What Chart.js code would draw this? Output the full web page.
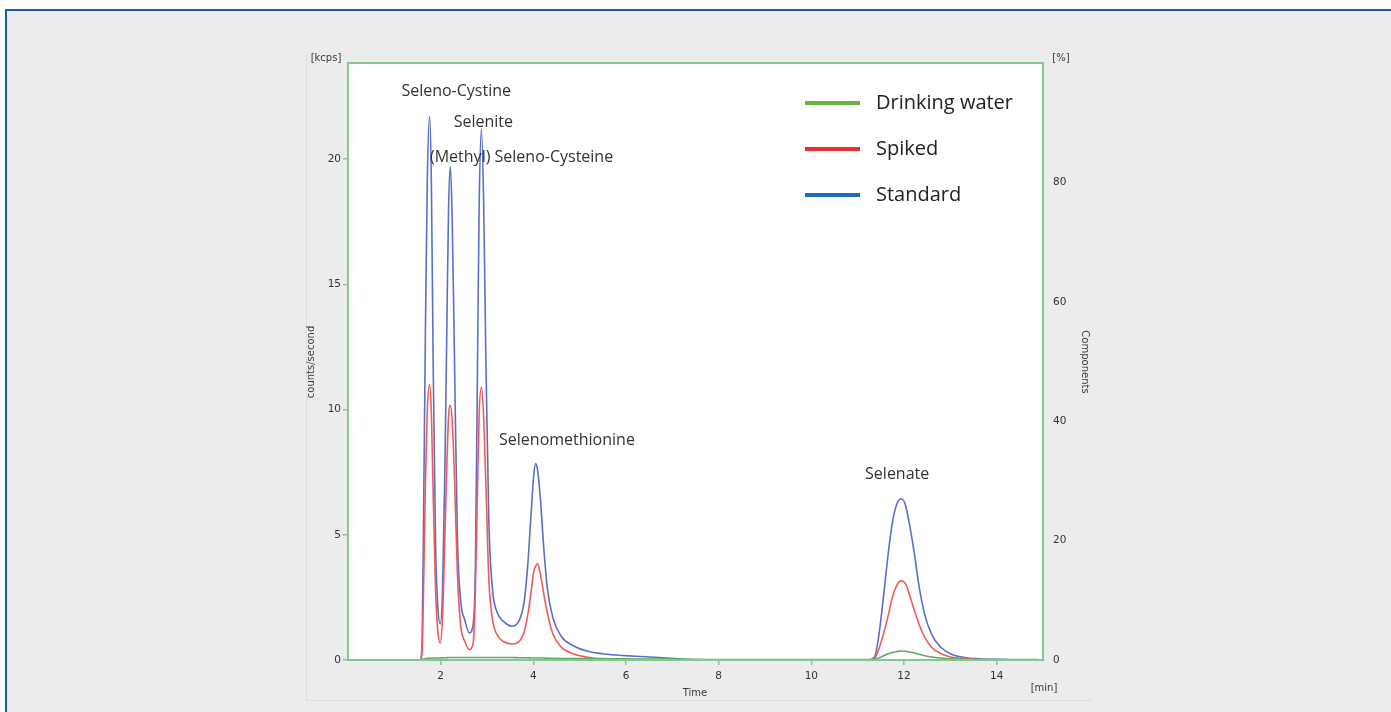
<!DOCTYPE html>
<html>
<head>
<meta charset="utf-8">
<script src="https://cdn.jsdelivr.net/npm/chart.js@4.4.0/dist/chart.umd.min.js"></script>
<style>
  html, body { margin: 0; padding: 0; background: #ffffff; }
  #frame {
    position: absolute; left: 5px; top: 9px; width: 1386px; height: 703px;
    background: #ebeceb; border-top: 2px solid #1f5aa5; border-left: 2px solid #1f5aa5;
    box-sizing: border-box;
  }
  #chart { position: absolute; left: 0; top: 0; }
</style>
</head>
<body>
<div id="frame"></div>
<canvas id="chart" width="1391" height="712"></canvas>
<script>
// ---- data ----
const timeMin = [0.1, 1.0, 1.56, 1.60, 1.63, 1.67, 1.71, 1.76, 1.80, 1.84, 1.89, 1.94, 1.99,
  2.04, 2.09, 2.13, 2.17, 2.21, 2.25, 2.30, 2.36, 2.43, 2.52, 2.62, 2.70, 2.75, 2.79, 2.83,
  2.88, 2.93, 2.98, 3.04, 3.12, 3.22, 3.35, 3.55, 3.70, 3.80, 3.88, 3.95, 4.01, 4.05, 4.09,
  4.15, 4.22, 4.30, 4.42, 4.6, 4.85, 5.2, 5.6, 6.2, 6.8, 7.2, 8.0, 10.0, 11.2, 11.36, 11.45,
  11.55, 11.65, 11.75, 11.85, 11.94, 12.03, 12.12, 12.22, 12.32, 12.45, 12.6, 12.8, 13.0,
  13.3, 13.6, 14.25, 14.9];

const standard = [0, 0, 0, 0.8, 5.5, 13.0, 19.0, 21.7, 19.0, 11.5, 4.6, 2.1, 1.44,
  2.7, 7.5, 12.8, 18.0, 19.7, 17.5, 11.8, 5.0, 2.4, 1.6, 1.08, 1.4, 3.8, 10.8, 18.0,
  21.2, 18.0, 11.5, 5.5, 2.8, 1.9, 1.55, 1.35, 1.6, 2.3, 3.8, 5.8, 7.4, 7.84, 7.6,
  6.5, 4.6, 2.9, 1.7, 0.95, 0.58, 0.34, 0.23, 0.15, 0.09, 0.04, 0, 0, 0, 0.1, 0.9,
  2.4, 4.1, 5.5, 6.25, 6.44, 6.2, 5.4, 4.3, 3.0, 1.8, 1.0, 0.5, 0.25,
  0.1, 0.05, 0.02, null];

const spiked = [0, 0, 0, 0.4, 2.8, 7.0, 9.9, 11.0, 9.8, 6.5, 2.8, 1.1, 0.68,
  1.7, 4.8, 7.6, 9.7, 10.16, 9.5, 7.2, 3.5, 1.4, 0.75, 0.42, 0.65, 2.8, 6.4, 9.8,
  10.9, 9.6, 6.8, 3.2, 1.6, 1.0, 0.74, 0.64, 0.75, 1.1, 1.8, 2.7, 3.55, 3.75, 3.84,
  3.45, 2.7, 1.9, 1.05, 0.52, 0.26, 0.1, 0.05, 0.02, 0, 0, 0, 0, 0, 0.05, 0.4,
  1.0, 1.7, 2.5, 3.0, 3.16, 3.05, 2.6, 2.0, 1.45, 0.9, 0.5, 0.25, 0.12,
  0.06, 0.02, null, null];

const drinking = [0, 0, 0, 0.02, 0.04, 0.05, 0.06, 0.07, 0.07, 0.08, 0.08, 0.08, 0.08,
  0.09, 0.09, 0.09, 0.1, 0.1, 0.1, 0.1, 0.1, 0.1, 0.1, 0.1, 0.1, 0.1, 0.1, 0.1,
  0.1, 0.1, 0.1, 0.1, 0.1, 0.1, 0.1, 0.1, 0.09, 0.09, 0.09, 0.08, 0.08, 0.08, 0.08,
  0.08, 0.08, 0.07, 0.07, 0.06, 0.06, 0.05, 0.05, 0.04, 0.04, 0.03, 0.02, 0.02, 0.02, 0.03, 0.08,
  0.16, 0.24, 0.3, 0.34, 0.36, 0.35, 0.32, 0.28, 0.23, 0.17, 0.12, 0.08, 0.05,
  0.03, 0.02, 0.02, 0.02];

const xTicks = [2, 4, 6, 8, 10, 12, 14];
const leftTicks = [0, 5, 10, 15, 20];
const rightTicks = [0, 20, 40, 60, 80];

const peakLabels = [
  { text: "Seleno-Cystine", t: 2.335, v: 22.72, align: "center" },
  { text: "Selenite", t: 2.92, v: 21.48, align: "center" },
  { text: "(Methyl) Seleno-Cysteine", t: 1.77, v: 20.08, align: "left" },
  { text: "Selenomethionine", t: 3.26, v: 8.76, align: "left" },
  { text: "Selenate", t: 11.16, v: 7.4, align: "left" }
];

const legendItems = [
  { text: "Drinking water", color: "#6db344" },
  { text: "Spiked", color: "#ee2b2b" },
  { text: "Standard", color: "#1e6bbf" }
];

const frameGreen = "#86c594";

function pts(arr) {
  return timeMin.map((t, i) => ({ x: t, y: arr[i] }));
}

// draws frame, peak names, legend and axis captions
const decorPlugin = {
  id: "decor",
  beforeDraw(chart) {
    const ctx = chart.ctx;
    ctx.save();
    ctx.strokeStyle = "#dcdfdc";
    ctx.lineWidth = 1;
    ctx.beginPath();
    ctx.moveTo(306.5, 52);
    ctx.lineTo(306.5, 700.5);
    ctx.lineTo(1092, 700.5);
    ctx.stroke();
    const a = chart.chartArea;
    ctx.fillStyle = "#ffffff";
    ctx.fillRect(a.left, a.top, a.right - a.left, a.bottom - a.top);
    ctx.restore();
  },
  afterDraw(chart) {
    const ctx = chart.ctx;
    const a = chart.chartArea;
    const xs = chart.scales.x, ys = chart.scales.y;
    ctx.save();
    ctx.strokeStyle = frameGreen;
    ctx.lineWidth = 2;
    ctx.strokeRect(a.left, a.top, a.right - a.left, a.bottom - a.top);

    // peak names
    ctx.fillStyle = "#333333";
    ctx.font = "16px 'Open Sans'";
    ctx.textBaseline = "middle";
    peakLabels.forEach(p => {
      ctx.textAlign = p.align;
      ctx.fillText(p.text, xs.getPixelForValue(p.t), ys.getPixelForValue(p.v));
    });

    // legend
    ctx.font = "20px 'Open Sans'";
    ctx.textAlign = "left";
    legendItems.forEach((it, i) => {
      const y = 103 + i * 46;
      ctx.strokeStyle = it.color;
      ctx.lineWidth = 4;
      ctx.beginPath();
      ctx.moveTo(805, y);
      ctx.lineTo(860, y);
      ctx.stroke();
      ctx.fillStyle = "#222222";
      ctx.fillText(it.text, 876, y);
    });

    // axis captions
    ctx.fillStyle = "#3a3a3a";
    ctx.font = "10px 'DejaVu Sans'";
    ctx.textAlign = "center";
    ctx.fillText("[kcps]", 326, 58);
    ctx.fillText("[%]", 1061, 58);
    ctx.fillText("Time", 695, 693);
    ctx.fillText("[min]", 1044, 688);
    ctx.save();
    ctx.translate(311, 362);
    ctx.rotate(-Math.PI / 2);
    ctx.fillText("counts/second", 0, 0);
    ctx.restore();
    ctx.save();
    ctx.translate(1085, 362);
    ctx.rotate(Math.PI / 2);
    ctx.fillText("Components", 0, 0);
    ctx.restore();
    ctx.restore();
  }
};

const tickFont = { family: "'DejaVu Sans'", size: 10.5 };

new Chart(document.getElementById("chart"), {
  type: "line",
  data: {
    datasets: [
      { label: "Drinking water", data: pts(drinking), borderColor: "#5faa62", order: 0 },
      { label: "Spiked", data: pts(spiked), borderColor: "#f25a5a", order: 1 },
      { label: "Standard", data: pts(standard), borderColor: "#5b6fc8", order: 2 }
    ]
  },
  options: {
    responsive: false,
    animation: false,
    layout: { padding: { left: 300, right: 300, top: 63, bottom: 22 } },
    elements: {
      point: { radius: 0 },
      line: { borderWidth: 1.6, cubicInterpolationMode: "monotone", fill: false }
    },
    plugins: { legend: { display: false }, tooltip: { enabled: false } },
    scales: {
      x: {
        type: "linear", min: 0, max: 15,
        afterBuildTicks: s => { s.ticks = xTicks.map(v => ({ value: v })); },
        afterFit: s => { s.height = 30; },
        grid: { drawOnChartArea: false, color: frameGreen, tickLength: 5, lineWidth: 1.5 },
        border: { color: frameGreen, width: 2 },
        ticks: { color: "#333", font: tickFont, padding: 5, maxRotation: 0 }
      },
      y: {
        position: "left", min: 0, max: 23.84,
        afterBuildTicks: s => { s.ticks = leftTicks.map(v => ({ value: v })); },
        afterFit: s => { s.width = 48; },
        grid: { drawOnChartArea: false, color: frameGreen, tickLength: 5, lineWidth: 1.5 },
        border: { color: frameGreen, width: 2 },
        ticks: { color: "#333", font: tickFont, padding: 2 }
      },
      y1: {
        position: "right", min: 0, max: 100,
        afterBuildTicks: s => { s.ticks = rightTicks.map(v => ({ value: v })); },
        afterFit: s => { s.width = 48; },
        grid: { drawOnChartArea: false, display: false },
        border: { color: frameGreen, width: 2 },
        ticks: { color: "#333", font: tickFont, padding: 2 }
      }
    }
  },
  plugins: [decorPlugin]
});
</script>
</body>
</html>
